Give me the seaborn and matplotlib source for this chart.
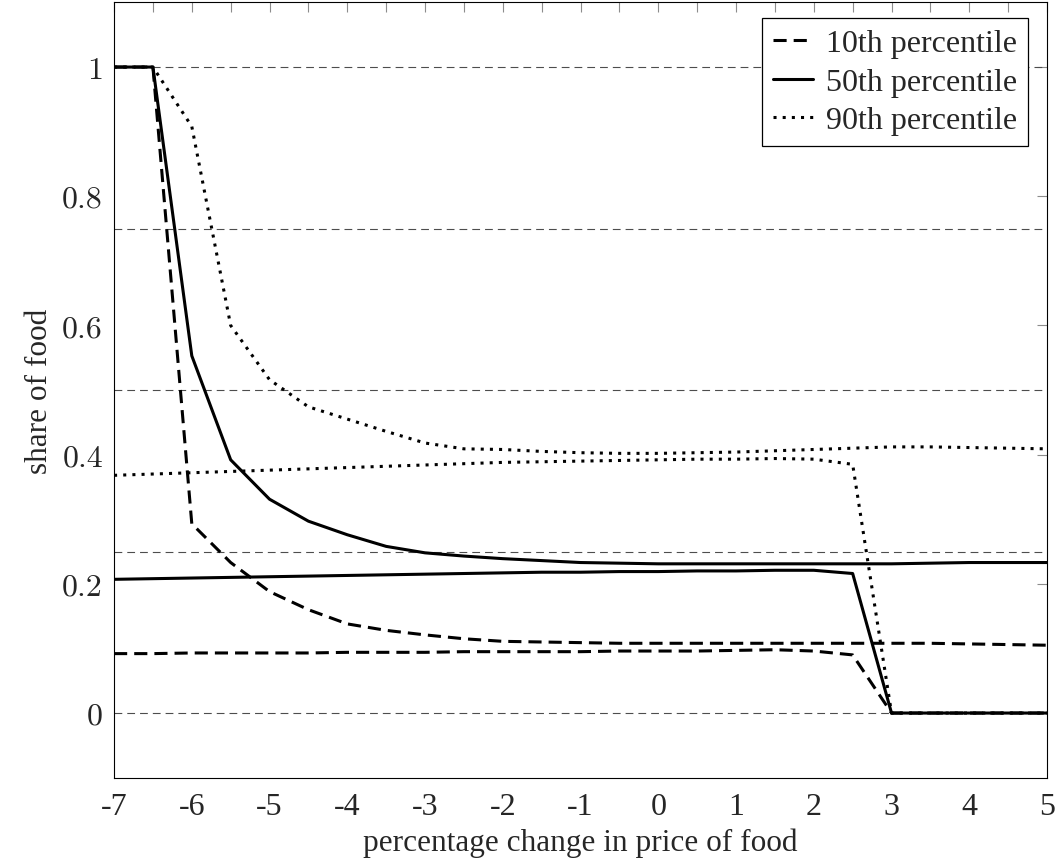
import numpy as np
import pandas as pd
import seaborn as sns
import matplotlib as mpl
import matplotlib.pyplot as plt

# percentage change in price of food (x), one point every half percent
price_change = [-7, -6.5, -6, -5.5, -5, -4.5, -4, -3.5, -3, -2.5, -2, -1.5, -1,
                -0.5, 0, 0.5, 1, 1.5, 2, 2.5, 3, 3.5, 4, 4.5, 5]

# upper branch (starts at 1) and lower branch (drops to 0) for each percentile
p10_high = [1, 1, 0.293, 0.233, 0.188, 0.160, 0.138, 0.128, 0.121, 0.115, 0.111, 0.110, 0.109,
            0.108, 0.108, 0.108, 0.108, 0.108, 0.108, 0.108, 0.108, 0.108, 0.107, 0.106, 0.105]
p10_low = [0.092, 0.092, 0.093, 0.093, 0.093, 0.093, 0.094, 0.094, 0.094, 0.095, 0.095, 0.095, 0.095,
           0.096, 0.096, 0.096, 0.097, 0.098, 0.096, 0.090, 0, 0, 0, 0, 0]
p50_high = [1, 1, 0.553, 0.392, 0.331, 0.297, 0.276, 0.258, 0.248, 0.243, 0.239, 0.236, 0.233,
            0.232, 0.231, 0.231, 0.231, 0.231, 0.231, 0.231, 0.231, 0.232, 0.233, 0.233, 0.233]
p50_low = [0.207, 0.208, 0.209, 0.210, 0.211, 0.212, 0.213, 0.214, 0.215, 0.216, 0.217, 0.218, 0.218,
           0.219, 0.219, 0.220, 0.220, 0.221, 0.221, 0.216, 0, 0, 0, 0, 0]
p90_high = [1, 1, 0.908, 0.600, 0.516, 0.474, 0.455, 0.436, 0.418, 0.409, 0.408, 0.405, 0.403,
            0.402, 0.402, 0.403, 0.404, 0.406, 0.408, 0.410, 0.412, 0.412, 0.411, 0.410, 0.409]
p90_low = [0.368, 0.370, 0.372, 0.374, 0.376, 0.378, 0.380, 0.382, 0.384, 0.386, 0.388, 0.389, 0.390,
           0.391, 0.392, 0.393, 0.393, 0.394, 0.393, 0.385, 0, 0, 0, 0, 0]

percentiles = ["10th percentile", "50th percentile", "90th percentile"]
x_ticks = [-7, -6, -5, -4, -3, -2, -1, 0, 1, 2, 3, 4, 5]
x_minor = [-6.5, -5.5, -4.5, -3.5, -2.5, -1.5, -0.5, 0.5, 1.5, 2.5, 3.5, 4.5]
y_ticks = [0, 0.2, 0.4, 0.6, 0.8, 1]
y_labels = ["0", "0.2", "0.4", "0.6", "0.8", "1"]
grid_levels = [0, 0.25, 0.5, 0.75, 1]

rows = []
for name, hi, lo in zip(percentiles, [p10_high, p50_high, p90_high], [p10_low, p50_low, p90_low]):
    for x, a, b in zip(price_change, hi, lo):
        rows.append({"price_change": x, "share": a, "percentile": name, "branch": name + " high"})
        rows.append({"price_change": x, "share": b, "percentile": name, "branch": name + " low"})
df = pd.DataFrame(rows)

sns.set_style("white")
plt.rcParams['font.family'] = ['Liberation Serif', 'DejaVu Serif']
plt.rcParams['axes.unicode_minus'] = False

fig = plt.figure(figsize=(10.56, 8.62), dpi=100)
ax = fig.add_axes([0.108, 0.0967, 0.8835, 0.8993])

for lev in grid_levels:
    ax.axhline(lev, color='0.3', lw=0.8, dashes=(7, 4.5), zorder=1)

line_dashes = {"10th percentile": (4.3, 2.3), "50th percentile": "", "90th percentile": (1, 2)}
sns.lineplot(data=df, x="price_change", y="share", style="percentile", units="branch",
             estimator=None, dashes=line_dashes, color="black", lw=2.2, ax=ax, zorder=3)

ax.set_xlim(-7, 5)
ax.set_ylim(-0.1, 1.1)
ax.set_xticks(x_ticks, labels=[str(t) for t in x_ticks])
ax.set_xticks(x_minor, minor=True)
ax.set_yticks(y_ticks, labels=y_labels)
for lab in ax.get_yticklabels():
    lab.set_fontfamily('cmr10')
ax.tick_params(which='both', direction='in', top=True, right=True, color='0.55',
               length=7, width=0.8, labelsize=23)
ax.tick_params(axis='x', pad=10)
ax.tick_params(axis='y', pad=8)
for sp in ax.spines.values():
    sp.set_color('black')
    sp.set_linewidth(0.8)

ax.set_xlabel("percentage change in price of food", fontsize=22.5, labelpad=5)
ax.set_ylabel("share of food", fontsize=22.5, labelpad=6)

handles, labels = ax.get_legend_handles_labels()
ax.legend(handles, labels, loc='upper right', bbox_to_anchor=(0.98, 0.98), borderaxespad=0,
          frameon=True, fancybox=False, edgecolor='black', framealpha=1, fontsize=23,
          handlelength=1.25, handletextpad=0.4, labelspacing=0.28, borderpad=0.35)
ax.get_legend().get_frame().set_linewidth(0.9)

plt.savefig("out.png", dpi=100)
